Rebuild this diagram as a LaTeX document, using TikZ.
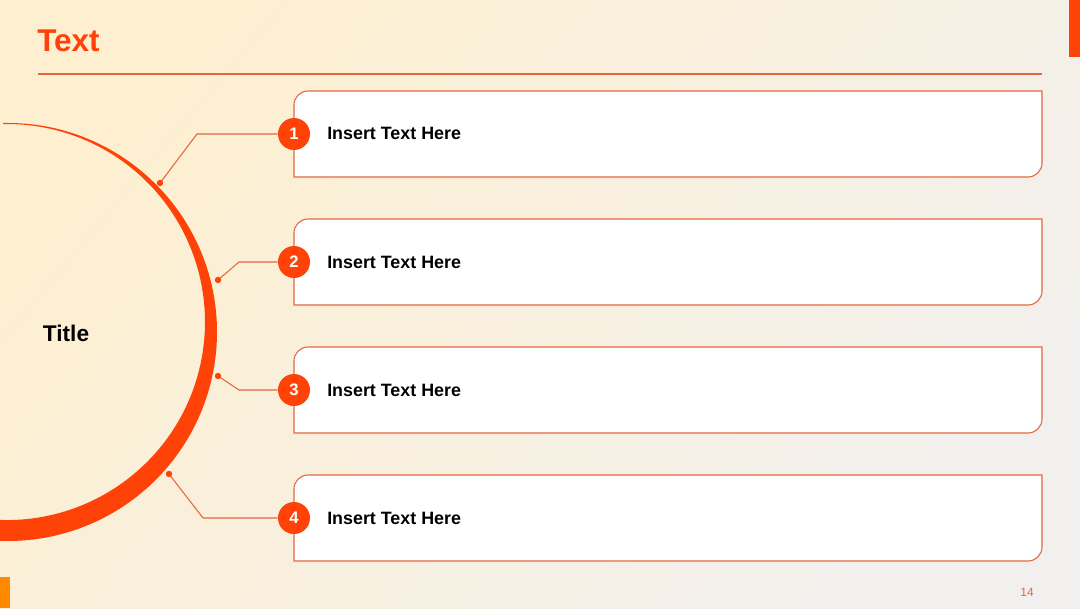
\documentclass[tikz,border=0pt]{standalone}
\usepackage{fontspec}
\setmainfont{Liberation Sans}
\usetikzlibrary{positioning}
\definecolor{accent}{HTML}{FF4207}
\definecolor{rule}{HTML}{E4683E}
\definecolor{bgtop}{HTML}{FDEFD0}
\definecolor{bgbot}{HTML}{F2F0EE}
\definecolor{amber}{HTML}{FF8A00}

\begin{document}
\begin{tikzpicture}[x=0.75pt, y=0.75pt]
\begin{scope}
  \useasboundingbox (0,0) rectangle (1080,608);
  \clip (0,0) rectangle (1080,608);
  \shade[shading=axis, top color=bgtop, bottom color=bgbot, shading angle=50] (0,0) rectangle (1080,608);
  \fill[accent] (1069,551) rectangle (1080,608);
  \fill[amber] (0,0) rectangle (10,31);
  \draw[rule, line width=0.8pt] (38,534) -- (1042,534);
  \fill[accent] (3,485) -- (8,485) arc[start angle=90, end angle=-100, radius=209]
    -- (-27.4,91) arc[start angle=-100, end angle=90, radius=198] -- (3,484) -- cycle;
\end{scope}

\begin{scope}[draw=rule, line width=0.8pt]
  \foreach \yc in {474,346,218,90}
    \filldraw[fill=white] (294,\yc-43) -- (294,\yc+29) arc[start angle=180, end angle=90, radius=14]
      -- (1042,\yc+43) -- (1042,\yc-29) arc[start angle=0, end angle=-90, radius=14] -- cycle;
\end{scope}

\begin{scope}
  \node[anchor=base west, inner sep=0pt, text=accent, font=\bfseries\fontsize{23.6}{26}\selectfont] (head) at (37,556) {Text};
  \node[anchor=base, inner sep=0pt, font=\bfseries\fontsize{17}{20}\selectfont] (title) at (66,267) {Title};
  \node[text=rule, inner sep=0pt, font=\fontsize{9}{10}\selectfont] (page) at (1027,16) {14};
\end{scope}

\begin{scope}[every node/.style={circle, fill=accent, text=white, minimum size=24pt, inner sep=0pt,
                                 font=\bfseries\fontsize{12.5}{14}\selectfont}]
  \node (n1) at (294,474) {1};
  \node (n2) at (294,346) {2};
  \node (n3) at (294,218) {3};
  \node (n4) at (294,90) {4};
\end{scope}

\begin{scope}[every node/.style={anchor=base west, inner sep=0pt, font=\bfseries\fontsize{13.4}{15}\selectfont}]
  \node (t1) at (327,468) {Insert Text Here};
  \node (t2) at (327,340) {Insert Text Here};
  \node (t3) at (327,212) {Insert Text Here};
  \node (t4) at (327,84) {Insert Text Here};
\end{scope}

\coordinate (d1) at (160,425); \coordinate (k1) at (197,474);
\coordinate (d2) at (218,328); \coordinate (k2) at (239,346);
\coordinate (d3) at (218,232); \coordinate (k3) at (239,218);
\coordinate (d4) at (169,134); \coordinate (k4) at (203,90);

\begin{scope}[every path/.style={rule, line width=0.8pt}]
  \foreach \i in {1,...,4} {
    \draw (d\i) -- (k\i) -- (n\i);
    \fill[accent] (d\i) circle[radius=3.2];
  }
\end{scope}
\end{tikzpicture}
\end{document}
